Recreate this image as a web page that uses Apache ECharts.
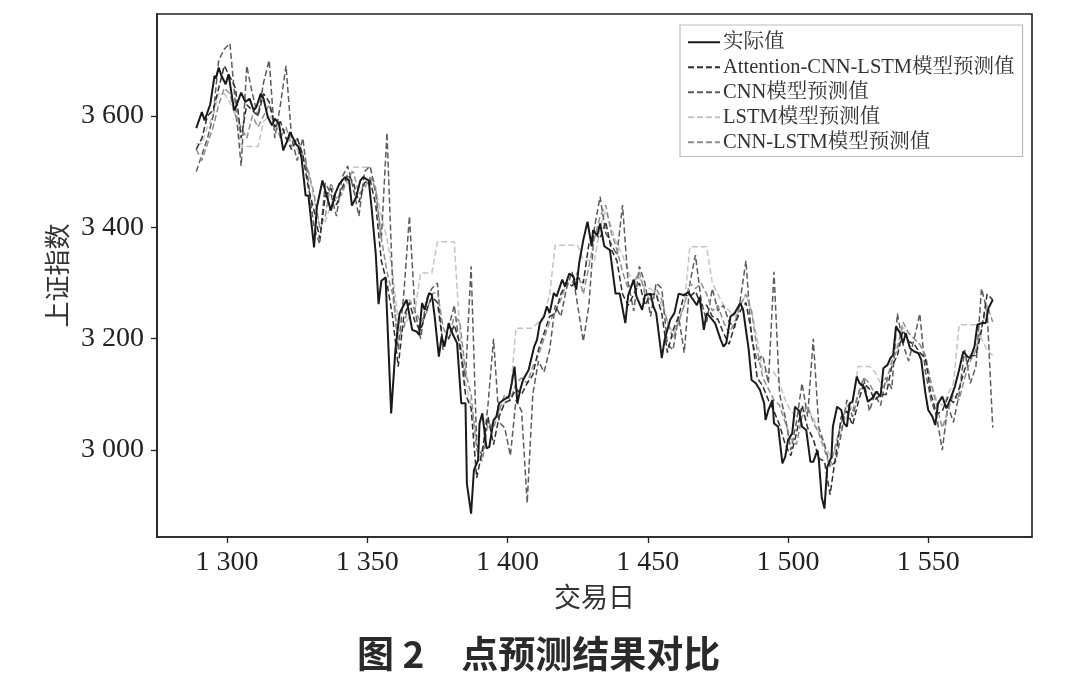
<!DOCTYPE html>
<html><head><meta charset="utf-8">
<script src="https://cdn.jsdelivr.net/npm/echarts@6/dist/echarts.min.js"></script>
<style>html,body{margin:0;padding:0;background:#fff}#c{width:1092px;height:690px}</style>
</head><body><div id="c"></div>
<script>
const actualDays = [1289,1291,1292,1294,1295.5,1296,1297,1298,1299.5,1300.5,1302.5,1303.5,1305,1306.5,1308,1309.5,1310.5,1312,1313,1314.5,1316,1317,1318.5,1320,1321.5,1322.5,1324.5,1325.5,1326.5,1328,1329,1331,1332,1334,1335,1337,1338.5,1340,1341,1342,1343.5,1344.5,1346,1347.5,1348.5,1350.5,1351.5,1353,1354,1355,1356.5,1358.5,1360,1361.5,1364,1366,1367.5,1368.5,1369.5,1370.5,1372,1373,1374,1375.5,1376.5,1377.5,1379,1380,1382,1383.5,1385,1385.5,1387,1388,1389.5,1390,1391,1392.5,1393.5,1395,1396,1397,1398.5,1400.5,1401.5,1402.5,1403.5,1404.5,1405.5,1407.5,1409.5,1410.5,1411.5,1413,1414,1415,1416.5,1417.5,1419.5,1420.5,1422,1423.5,1424.5,1425.5,1427,1428.5,1430,1430.5,1432,1433,1434.5,1436.5,1438.5,1440,1442,1443,1445,1446,1448,1449,1451,1452,1453,1455,1456,1458,1459.5,1461,1463,1464.5,1465.5,1467.5,1468.5,1470,1471,1472,1474,1476,1477,1478,1479.5,1481,1483,1484,1486,1487,1488.5,1490,1491.5,1492,1493,1494.5,1495,1496.5,1498,1499,1500,1501.5,1502.5,1504,1505,1506.5,1508,1509,1510.5,1511,1512,1513,1514,1515.5,1516,1517.5,1519,1520,1521,1522,1523,1524.5,1525.5,1527,1528.5,1530,1531.5,1533,1534,1535.5,1536.5,1537.5,1538.5,1540,1541,1542,1543.5,1545,1546.5,1547.5,1549,1550,1551.5,1552.5,1553.5,1555,1556.5,1558,1559.5,1561,1562.5,1564,1565,1566.5,1567.5,1569,1570.5,1571.5,1573];
const actualValues = [3578,3607,3592,3621,3672,3667,3687,3672,3657,3675,3610,3621,3642,3625,3631,3610,3617,3640,3631,3598,3583,3595,3586,3538,3556,3571,3550,3544,3526,3457,3457,3364,3436,3484,3466,3430,3460,3478,3484,3490,3484,3439,3454,3484,3490,3484,3436,3352,3262,3304,3310,3066,3180,3246,3270,3216,3213,3207,3264,3252,3282,3279,3240,3168,3204,3186,3228,3213,3192,3084,3084,2940,2886,2964,2982,3048,3066,3003,3006,3054,3060,3084,3090,3096,3120,3150,3084,3108,3126,3144,3186,3198,3228,3240,3258,3246,3282,3276,3306,3294,3317,3312,3288,3335,3377,3410,3366,3395,3386,3407,3366,3359,3281,3281,3228,3278,3306,3275,3252,3278,3281,3258,3246,3165,3198,3234,3246,3281,3278,3284,3275,3260,3275,3216,3246,3240,3228,3198,3186,3192,3240,3246,3264,3252,3180,3126,3120,3108,3084,3054,3072,3090,3048,3042,2976,2988,3018,3030,3078,3070,3042,3036,2979,2979,3000,2982,2916,2895,2970,2988,3042,3078,3072,3048,3042,3084,3087,3132,3120,3114,3087,3093,3105,3096,3147,3153,3165,3171,3222,3210,3192,3210,3183,3177,3174,3162,3102,3072,3060,3045,3084,3096,3075,3093,3114,3144,3177,3168,3165,3186,3225,3228,3228,3255,3270];

// Model prediction series, sampled on these trading days
const predDays = [1289,1291,1293,1295,1297,1299,1301,1303,1305,1307,1309,1311,1313,1315,1317,1319,1321,1323,1325,1327,1329,1331,1333,1335,1337,1339,1341,1343,1345,1347,1349,1351,1353,1355,1357,1359,1361,1363,1365,1367,1369,1371,1373,1375,1377,1379,1381,1383,1385,1387,1389,1391,1393,1395,1397,1399,1401,1403,1405,1407,1409,1411,1413,1415,1417,1419,1421,1423,1425,1427,1429,1431,1433,1435,1437,1439,1441,1443,1445,1447,1449,1451,1453,1455,1457,1459,1461,1463,1465,1467,1469,1471,1473,1475,1477,1479,1481,1483,1485,1487,1489,1491,1493,1495,1497,1499,1501,1503,1505,1507,1509,1511,1513,1515,1517,1519,1521,1523,1525,1527,1529,1531,1533,1535,1537,1539,1541,1543,1545,1547,1549,1551,1553,1555,1557,1559,1561,1563,1565,1567,1569,1571,1573];
const attentionValues = [3540,3560,3600,3610,3650,3690,3670,3650,3560,3620,3610,3600,3640,3625,3580,3590,3560,3540,3560,3530,3470,3430,3380,3455,3470,3440,3470,3495,3480,3445,3480,3485,3440,3340,3300,3240,3150,3240,3265,3230,3215,3250,3275,3265,3190,3200,3225,3190,3100,3075,2950,3000,3060,3010,3060,3085,3090,3110,3100,3120,3135,3180,3210,3240,3245,3280,3300,3295,3310,3300,3370,3390,3380,3410,3360,3340,3280,3260,3280,3300,3260,3280,3280,3245,3175,3215,3240,3280,3275,3285,3260,3260,3240,3235,3210,3190,3225,3250,3265,3210,3130,3115,3090,3070,3045,3010,2990,3030,3080,3040,3020,2985,2980,2920,2990,3060,3070,3045,3085,3120,3110,3090,3100,3100,3150,3170,3215,3195,3190,3175,3165,3100,3065,3070,3095,3085,3110,3145,3170,3170,3215,3280,3270];
const cnnValues = [3500,3530,3560,3600,3700,3720,3730,3620,3510,3690,3640,3600,3660,3700,3560,3620,3690,3560,3520,3560,3480,3400,3370,3480,3460,3420,3490,3510,3470,3420,3500,3510,3460,3380,3570,3300,3180,3280,3420,3250,3200,3270,3290,3300,3180,3220,3260,3180,3130,3330,3010,2990,3080,3200,3050,3040,2990,3090,3070,2905,3100,3160,3140,3180,3260,3240,3290,3320,3260,3195,3260,3400,3455,3390,3370,3350,3440,3300,3250,3330,3300,3240,3300,3290,3190,3180,3240,3175,3300,3350,3270,3230,3290,3250,3260,3230,3220,3270,3340,3200,3160,3170,3120,3320,3100,3060,3000,3050,3120,3060,3200,3040,3010,2970,2980,3030,3090,3060,3100,3130,3070,3100,3080,3130,3110,3245,3190,3160,3200,3245,3140,3090,3060,3000,3080,3050,3100,3180,3120,3150,3290,3250,3040];
const lstmValues = [3550,3550,3580,3600,3640,3640,3625,3600,3545,3545,3545,3545,3590,3600,3590,3575,3575,3560,3540,3520,3500,3450,3400,3410,3440,3450,3470,3480,3508,3508,3508,3508,3470,3420,3380,3320,3230,3220,3240,3250,3318,3318,3318,3374,3374,3374,3374,3210,3120,3080,3025,3025,3040,3050,3070,3085,3100,3219,3219,3219,3219,3230,3240,3280,3368,3368,3368,3368,3368,3341,3341,3341,3400,3430,3400,3370,3350,3320,3300,3310,3290,3290,3280,3260,3230,3210,3230,3260,3365,3365,3365,3365,3300,3280,3260,3250,3240,3260,3280,3250,3200,3140,3140,3140,3120,3090,3070,3060,3080,3070,3060,3030,3010,2990,3000,3040,3060,3080,3150,3150,3150,3140,3120,3130,3150,3190,3220,3210,3200,3190,3170,3120,3090,3080,3100,3120,3225,3225,3225,3225,3200,3180,3170];
const cnnLstmValues = [3540,3520,3550,3580,3620,3650,3640,3600,3580,3560,3600,3580,3600,3620,3590,3560,3580,3545,3560,3530,3500,3460,3400,3420,3480,3450,3460,3490,3500,3460,3470,3490,3470,3380,3320,3280,3200,3220,3270,3250,3230,3245,3280,3285,3220,3200,3240,3230,3140,3100,3000,2980,3050,3040,3070,3100,3090,3120,3130,3120,3150,3170,3200,3230,3250,3270,3300,3300,3320,3280,3330,3380,3420,3440,3390,3360,3320,3290,3300,3320,3280,3270,3290,3270,3230,3200,3230,3260,3300,3290,3300,3280,3250,3260,3230,3210,3230,3260,3280,3250,3180,3130,3110,3090,3080,3050,3020,3010,3060,3080,3050,3030,3000,2970,3010,3050,3080,3070,3100,3130,3120,3100,3110,3120,3160,3180,3230,3210,3200,3190,3170,3120,3080,3040,3070,3100,3090,3130,3160,3180,3220,3260,3230];

const xTicks = [1300,1350,1400,1450,1500,1550];
const yTicks = [3000,3200,3400,3600];
const seriesNames = ['实际值','Attention-CNN-LSTM模型预测值','CNN模型预测值','LSTM模型预测值','CNN-LSTM模型预测值'];

const pair = (xs, ys) => xs.map((x, i) => [x, ys[i]]);
const fmt = v => String(v).replace(/\B(?=(\d{3})+(?!\d))/g, ' ');
const serif = "'Liberation Serif','Noto Serif CJK SC','Noto Sans CJK SC',serif";
const cjk = "'Noto Sans CJK SC',sans-serif";

const chart = echarts.init(document.getElementById('c'), null, {renderer: 'canvas'});
const dash = [6, 3];
function line(name, data, color, width, type, z) {
  return {name, type: 'line', data, showSymbol: false, symbol: 'none', z,
    lineStyle: {color, width, type}, itemStyle: {color}, emphasis: {disabled: true}};
}
chart.setOption({
  animation: false,
  backgroundColor: '#fff',
  grid: {left: 157, right: 60, top: 14, bottom: 153, show: true, borderColor: '#222', borderWidth: 1.6, backgroundColor: 'transparent'},
  xAxis: {type: 'value', min: 1275, max: 1587, name: '交易日', nameLocation: 'middle', nameGap: 46,
    nameTextStyle: {fontFamily: cjk, fontSize: 27, color: '#333'},
    axisLine: {show: true, onZero: false, lineStyle: {color: '#222', width: 1.6}},
    axisTick: {show: true, length: 6, customValues: xTicks, lineStyle: {color: '#222', width: 1.3}},
    axisLabel: {customValues: xTicks, formatter: fmt, margin: 12, fontFamily: serif, fontSize: 28, color: '#222'},
    splitLine: {show: false}},
  yAxis: {type: 'value', min: 2844, max: 3783, name: '上证指数', nameLocation: 'middle', nameGap: 76, nameRotate: 90,
    nameTextStyle: {fontFamily: cjk, fontSize: 26, color: '#333'},
    axisLine: {show: true, onZero: false, lineStyle: {color: '#222', width: 1.6}},
    axisTick: {show: true, length: 6, customValues: yTicks, lineStyle: {color: '#222', width: 1.3}},
    axisLabel: {customValues: yTicks, formatter: fmt, margin: 13, fontFamily: serif, fontSize: 28, color: '#222'},
    splitLine: {show: false}},
  legend: {orient: 'vertical', left: 680, top: 25, padding: [7, 8, 4, 7], itemWidth: 32, itemHeight: 14, itemGap: 4.5,
    borderColor: '#bbb', borderWidth: 1.2, backgroundColor: '#fff', data: seriesNames,
    itemStyle: {color: 'transparent', borderColor: 'transparent', borderWidth: 0, opacity: 0},
    textStyle: {fontFamily: serif, fontSize: 20.5, color: '#333', padding: [0, 0, 0, -2]}},
  series: [
    line(seriesNames[0], pair(actualDays, actualValues), '#1a1a1a', 2, 'solid', 6),
    line(seriesNames[1], pair(predDays, attentionValues), '#2e2e2e', 1.5, dash, 5),
    line(seriesNames[2], pair(predDays, cnnValues), '#5c5c5c', 1.5, dash, 3),
    line(seriesNames[3], pair(predDays, lstmValues), '#c4c4c4', 1.5, dash, 2),
    line(seriesNames[4], pair(predDays, cnnLstmValues), '#8e8e8e', 1.5, dash, 4)
  ],
  graphic: [{type: 'text', left: 357, top: 635, style: {text: '图 2　点预测结果对比', font: "bold 37px 'Noto Sans CJK SC'", fill: '#2a2a2a'}}]
});
</script></body></html>
